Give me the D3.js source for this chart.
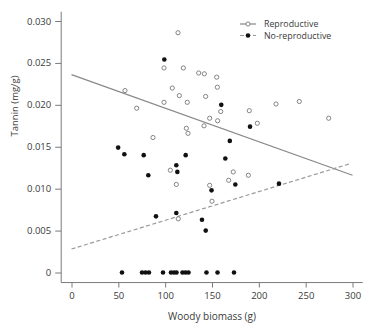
<!DOCTYPE html>
<html>
<head>
<meta charset="utf-8">
<script src="https://cdn.jsdelivr.net/npm/d3@7"></script>
<style>
  body { margin: 0; background: #fff; }
  text { font-family: "Open Sans", "Noto Sans", sans-serif; fill: #3a3a3a; }
</style>
</head>
<body>
<div id="chart"></div>
<script>
// Reproductive plants (open circles)
const reproBiomass = [113.7, 98.8, 119.4, 135.8, 141.8, 155.0, 155.7, 107.6, 57.1, 115.1,
  143.2, 98.8, 123.6, 69.6, 147.5, 141.5, 156.0, 122.6, 124.4, 87.0,
  159.3, 189.8, 218.3, 243.2, 274.6, 198.4, 105.5, 111.9, 147.5, 150.0,
  114.0, 167.8, 172.7, 188.8];
const reproTannin = [0.0286, 0.0244, 0.0244, 0.0238, 0.0237, 0.0233, 0.0221, 0.0220, 0.0217, 0.0211,
  0.0210, 0.0203, 0.0203, 0.0196, 0.0184, 0.0175, 0.0181, 0.0172, 0.0166, 0.0161,
  0.0192, 0.0193, 0.0201, 0.0204, 0.0184, 0.0178, 0.0122, 0.0105, 0.0104, 0.0085,
  0.0064, 0.0110, 0.0120, 0.0116];

// Non-reproductive plants (filled circles)
const noReproBiomass = [99.1, 159.9, 190.6, 169.0, 49.8, 56.4, 77.1, 121.9, 111.9, 113.0,
  82.0, 149.5, 90.2, 111.9, 139.3, 143.3, 164.2, 174.9, 221.5,
  53.9, 75.3, 79.0, 82.7, 97.7, 106.2, 109.4, 112.1, 118.5, 121.7, 124.9, 144.1, 155.9, 173.5];
const noReproTannin = [0.0254, 0.0200, 0.0174, 0.0157, 0.0149, 0.0141, 0.0140, 0.0140, 0.0128, 0.0120,
  0.0116, 0.0098, 0.0067, 0.0071, 0.0063, 0.0050, 0.0136, 0.0105, 0.0106,
  0, 0, 0, 0, 0, 0, 0, 0, 0, 0, 0, 0, 0, 0];

// fitted lines, [biomass, tannin] end points
const reproFit = [[0, 0.0236], [300, 0.0116]];
const noReproFit = [[0, 0.0028], [298, 0.0130]];

const xTicks = [0, 50, 100, 150, 200, 250, 300];
const yTicks = [0, 0.005, 0.010, 0.015, 0.020, 0.025, 0.030];
const xFrame = [-11, 311];
const yFrame = [-0.0012, 0.0311];
const seriesNames = ["Reproductive", "No-reproductive"];

const width = 379, height = 330;
const svg = d3.select("#chart").append("svg")
  .attr("width", width).attr("height", height);

const x = d3.scaleLinear().domain([0, 300]).range([71.5, 352.5]);
const y = d3.scaleLinear().domain([0, 0.03]).range([272.5, 21]);

const axisColor = "#7a7a7a";

// frame lines (L shape)
svg.append("line")
  .attr("x1", x(xFrame[0])).attr("x2", x(xFrame[0]))
  .attr("y1", y(yFrame[1])).attr("y2", y(yFrame[0]))
  .attr("stroke", axisColor).attr("stroke-width", 1);
svg.append("line")
  .attr("x1", x(xFrame[0])).attr("x2", x(xFrame[1]))
  .attr("y1", y(yFrame[0])).attr("y2", y(yFrame[0]))
  .attr("stroke", axisColor).attr("stroke-width", 1);

svg.append("g")
  .attr("transform", `translate(${x(xFrame[0])},0)`)
  .call(d3.axisLeft(y).tickValues(yTicks)
    .tickFormat(d => d === 0 ? "0" : d3.format(".3f")(d))
    .tickSize(6).tickPadding(4))
  .call(g => g.select(".domain").remove())
  .call(g => g.selectAll("line").attr("stroke", axisColor))
  .call(g => g.selectAll("text").attr("font-size", 9.5).attr("fill", "#3a3a3a")
    .attr("font-family", "'Open Sans', sans-serif"));

svg.append("g")
  .attr("transform", `translate(0,${y(yFrame[0])})`)
  .call(d3.axisBottom(x).tickValues(xTicks).tickFormat(d3.format("d"))
    .tickSize(5).tickPadding(5))
  .call(g => g.select(".domain").remove())
  .call(g => g.selectAll("line").attr("stroke", axisColor))
  .call(g => g.selectAll("text").attr("font-size", 9.5).attr("fill", "#3a3a3a")
    .attr("font-family", "'Open Sans', sans-serif"));

// axis titles
svg.append("text")
  .attr("transform", `translate(18,106) rotate(-90)`)
  .attr("text-anchor", "middle")
  .attr("font-size", 9.5)
  .text("Tannin (mg/g)");
svg.append("text")
  .attr("x", 212).attr("y", 320)
  .attr("text-anchor", "middle")
  .attr("font-size", 10)
  .text("Woody biomass (g)");

// fit lines
const line = d3.line().x(d => x(d[0])).y(d => y(d[1]));
svg.append("path").datum(reproFit)
  .attr("d", line).attr("fill", "none")
  .attr("stroke", "#888").attr("stroke-width", 1.2);
svg.append("path").datum(noReproFit)
  .attr("d", line).attr("fill", "none")
  .attr("stroke", "#999").attr("stroke-width", 1.2)
  .attr("stroke-dasharray", "4,2.5");

// points
const repro = reproBiomass.map((b, i) => ({ b, t: reproTannin[i] }));
const noRepro = noReproBiomass.map((b, i) => ({ b, t: noReproTannin[i] }));

svg.append("g").selectAll("circle").data(repro).join("circle")
  .attr("cx", d => x(d.b)).attr("cy", d => y(d.t)).attr("r", 2.1)
  .attr("fill", "#fff").attr("stroke", "#777").attr("stroke-width", 0.9);
svg.append("g").selectAll("circle").data(noRepro).join("circle")
  .attr("cx", d => x(d.b)).attr("cy", d => y(d.t)).attr("r", 2.3)
  .attr("fill", "#111");

// legend
const legend = svg.append("g").attr("transform", "translate(240,24)");
seriesNames.forEach((name, i) => {
  const g = legend.append("g").attr("transform", `translate(0,${i * 11.5})`);
  g.append("line").attr("x1", 0).attr("x2", 16).attr("y1", 0).attr("y2", 0)
    .attr("stroke", i === 0 ? "#888" : "#999").attr("stroke-width", 1.2)
    .attr("stroke-dasharray", i === 0 ? null : "4,2.5");
  g.append("circle").attr("cx", 8).attr("cy", 0).attr("r", i === 0 ? 2.1 : 2.3)
    .attr("fill", i === 0 ? "#fff" : "#111")
    .attr("stroke", i === 0 ? "#777" : "none").attr("stroke-width", 0.9);
  g.append("text").attr("x", 24).attr("y", 0).attr("dy", "0.35em")
    .attr("font-size", 8.8).text(name);
});
</script>
</body>
</html>
